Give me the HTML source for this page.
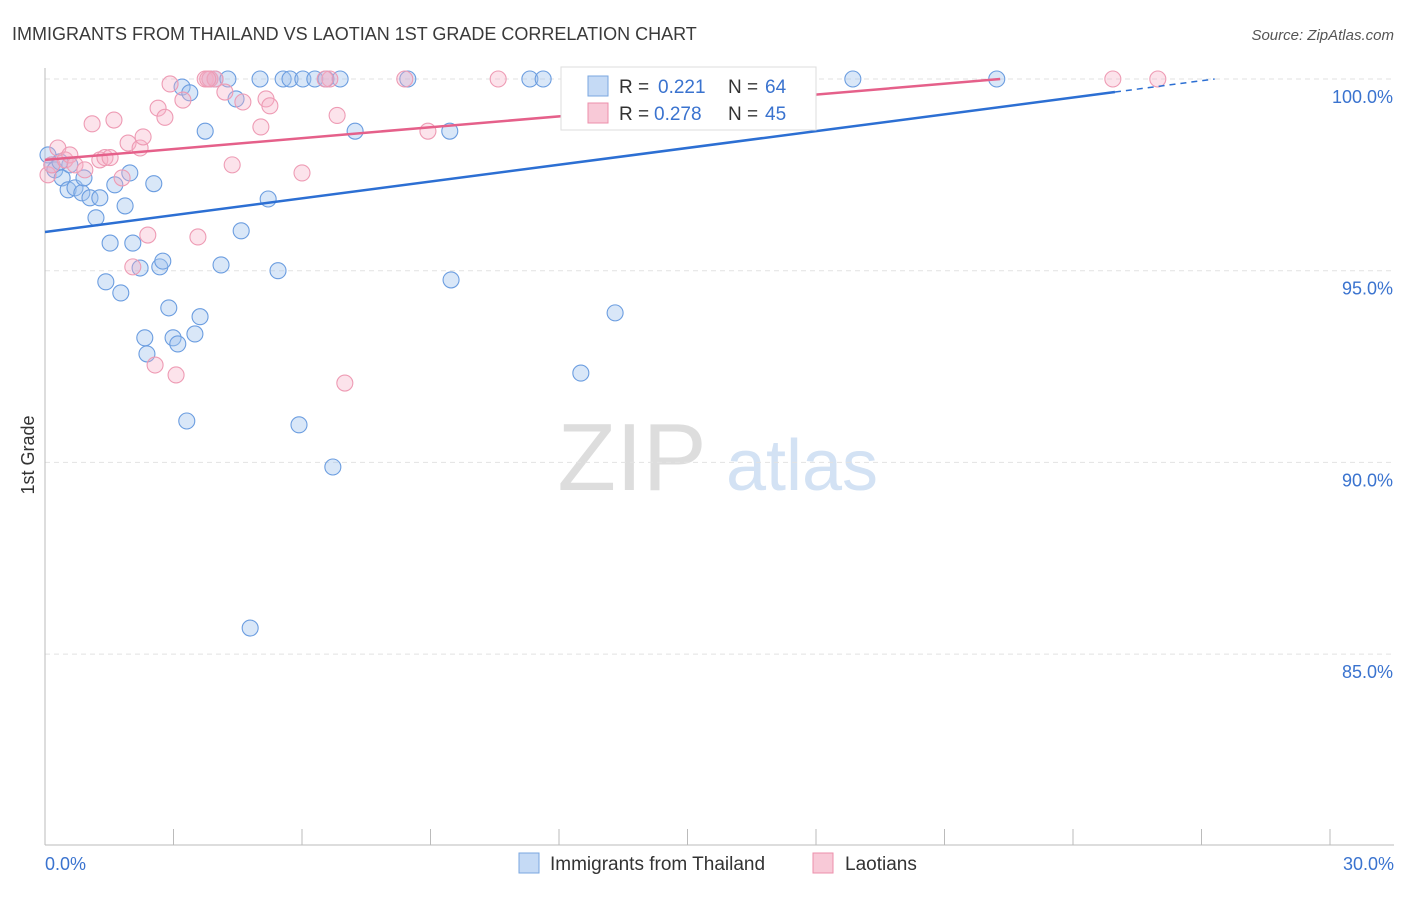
<!DOCTYPE html>
<html><head><meta charset="utf-8"><style>
body{margin:0;background:#fff;font-family:"Liberation Sans",sans-serif}
svg text{font-family:"Liberation Sans",sans-serif}
</style></head><body>
<svg width="1406" height="892" xmlns="http://www.w3.org/2000/svg">
<text x="12" y="40" font-size="18" fill="#3a3a3a">IMMIGRANTS FROM THAILAND VS LAOTIAN 1ST GRADE CORRELATION CHART</text>
<text x="1394" y="40" font-size="15" fill="#555" text-anchor="end" font-style="italic">Source: ZipAtlas.com</text>
<text x="632" y="490" font-size="96" fill="#ddd" font-family="Liberation Serif" text-anchor="middle">ZIP</text>
<text x="802" y="490" font-size="72" fill="#d3e2f4" text-anchor="middle">atlas</text>
<text x="34" y="455" font-size="18" fill="#333" transform="rotate(-90 34 455)" text-anchor="middle">1st Grade</text>
<g id="grid"></g><g id="axes"></g><g id="pts"></g><g id="trend"></g>
<g>
<rect x="561" y="67" width="255" height="63" fill="#fff" stroke="#ddd"/>
<rect x="588" y="76" width="20" height="20" fill="#c5daf5" stroke="#7aa7e0"/>
<text x="619" y="93" font-size="19" fill="#333">R =</text>
<text x="658" y="93" font-size="19" fill="#3a73cf">0.221</text>
<text x="728" y="93" font-size="19" fill="#333">N =</text>
<text x="765" y="93" font-size="19" fill="#3a73cf">64</text>
<rect x="588" y="103" width="20" height="20" fill="#f8c9d7" stroke="#ec8fab"/>
<text x="619" y="120" font-size="19" fill="#333">R =</text>
<text x="654" y="120" font-size="19" fill="#3a73cf">0.278</text>
<text x="728" y="120" font-size="19" fill="#333">N =</text>
<text x="765" y="120" font-size="19" fill="#3a73cf">45</text>
</g>
<g>
<rect x="519" y="853" width="20" height="20" fill="#c5daf5" stroke="#7aa7e0"/>
<text x="550" y="870" font-size="19" fill="#333">Immigrants from Thailand</text>
<rect x="813" y="853" width="20" height="20" fill="#f8c9d7" stroke="#ec8fab"/>
<text x="845" y="870" font-size="19" fill="#333">Laotians</text>
</g>
</svg>
<script>
const yTicks=[100,95,90,85];
const yTickLabels=["100.0%","95.0%","90.0%","85.0%"];
const blueX=[0.07,0.16,0.23,0.40,0.54,0.70,0.86,1.05,1.28,1.19,1.52,1.42,1.77,1.63,1.87,1.98,2.05,2.22,2.33,2.38,2.54,2.68,2.75,2.89,2.99,3.10,3.20,3.31,3.38,3.50,3.62,3.74,3.85,3.97,4.11,4.27,4.46,4.58,4.79,5.02,5.21,5.44,5.56,5.72,5.93,6.02,6.30,6.56,6.72,6.89,7.24,8.47,9.45,9.48,11.32,11.63,12.51,13.31,17.63,18.86,22.22,0.91,0.58,0.35];
const blueY=[98.02,97.76,97.63,97.42,97.11,97.16,97.03,96.90,96.90,96.38,95.72,94.71,94.42,97.24,96.69,97.55,95.72,95.07,93.25,92.83,97.27,95.10,95.25,94.03,93.25,93.09,99.79,91.08,99.64,93.35,93.80,98.64,100,100,95.15,100,99.48,96.04,85.68,100,96.87,95.00,100,100,90.98,100,100,100,89.88,100,98.64,100,98.64,94.76,100,100,92.33,93.90,98.88,100,100,97.42,97.76,97.84];
const pinkX=[0.07,0.16,0.30,0.47,0.58,0.70,0.93,1.10,1.28,1.40,1.52,1.61,1.80,1.94,2.22,2.29,2.40,2.05,2.57,2.64,2.80,2.92,3.06,3.22,3.57,3.74,3.85,3.97,4.20,4.37,4.62,5.04,5.16,5.25,6.00,6.65,6.82,7.00,8.40,8.94,10.58,24.93,25.98,6.54,3.80];
const pinkY=[97.50,97.76,98.20,97.89,98.02,97.76,97.63,98.83,97.89,97.95,97.95,98.93,97.42,98.33,98.20,98.49,95.93,95.10,92.54,99.24,99.00,99.87,92.28,99.45,95.88,100,100,100,99.66,97.76,99.40,98.75,99.48,99.30,97.55,100,99.05,92.07,100,98.64,100,100,100,100,100];
const blueTrend=[0,96.01,24.98,99.66];
const pinkTrend=[0,97.89,22.3,100];
const NS="http://www.w3.org/2000/svg";
const X=v=>45+v/30*1285, Y=v=>79+(100-v)/5*191.7;
function mk(tag,attrs,parent){const e=document.createElementNS(NS,tag);for(const k in attrs)e.setAttribute(k,attrs[k]);document.getElementById(parent).appendChild(e);return e;}
yTicks.forEach((t,i)=>{
 const l=mk('line',{x1:45,x2:1394,y1:Y(t),y2:Y(t),stroke:'#e2e2e2','stroke-dasharray':'5,4'},'grid');
 
 
 const tx=mk('text',{x:1393,y:Y(t)+24,'font-size':18,fill:'#3a73cf','text-anchor':'end'},'grid');
 tx.textContent=yTickLabels[i];
 
 
});
const ax=mk('line',{x1:45,x2:45,y1:68,y2:845,stroke:'#bbb'},'axes');


const bx=mk('line',{x1:45,x2:1394,y1:845,y2:845,stroke:'#bbb'},'axes');


for(let i=0;i<=10;i++){const t=mk('line',{x1:X(i*3),x2:X(i*3),y1:829,y2:845,stroke:'#bbb'},'axes');
 
 }
const xl=mk('text',{x:45,y:870,'font-size':18,fill:'#3a73cf'},'axes');xl.textContent='0.0%';


const xr=mk('text',{x:1394,y:870,'font-size':18,fill:'#3a73cf','text-anchor':'end'},'axes');xr.textContent='30.0%';


blueX.forEach((v,i)=>{const c=mk('circle',{cx:X(v),cy:Y(blueY[i]),r:8,fill:'rgba(160,195,238,0.4)',stroke:'#6b9de0','stroke-width':1.1},'pts');
 
 });
pinkX.forEach((v,i)=>{const c=mk('circle',{cx:X(v),cy:Y(pinkY[i]),r:8,fill:'rgba(245,175,198,0.35)',stroke:'#ee9bb4','stroke-width':1.1},'pts');
 
 });
const bl=mk('line',{x1:X(blueTrend[0]),y1:Y(blueTrend[1]),x2:X(blueTrend[2]),y2:Y(blueTrend[3]),stroke:'#2c6fd3','stroke-width':2.5},'trend');


const s=(blueTrend[3]-blueTrend[1])/(blueTrend[2]-blueTrend[0]);const xe=blueTrend[2]+(100-blueTrend[3])/s;
const bd=mk('line',{x1:X(blueTrend[2]),y1:Y(blueTrend[3]),x2:X(xe),y2:Y(100),stroke:'#2c6fd3','stroke-width':1.5,'stroke-dasharray':'6,5'},'trend');


const pl=mk('line',{x1:X(pinkTrend[0]),y1:Y(pinkTrend[1]),x2:X(pinkTrend[2]),y2:Y(pinkTrend[3]),stroke:'#e5608a','stroke-width':2.5},'trend');


</script>
</body></html>
